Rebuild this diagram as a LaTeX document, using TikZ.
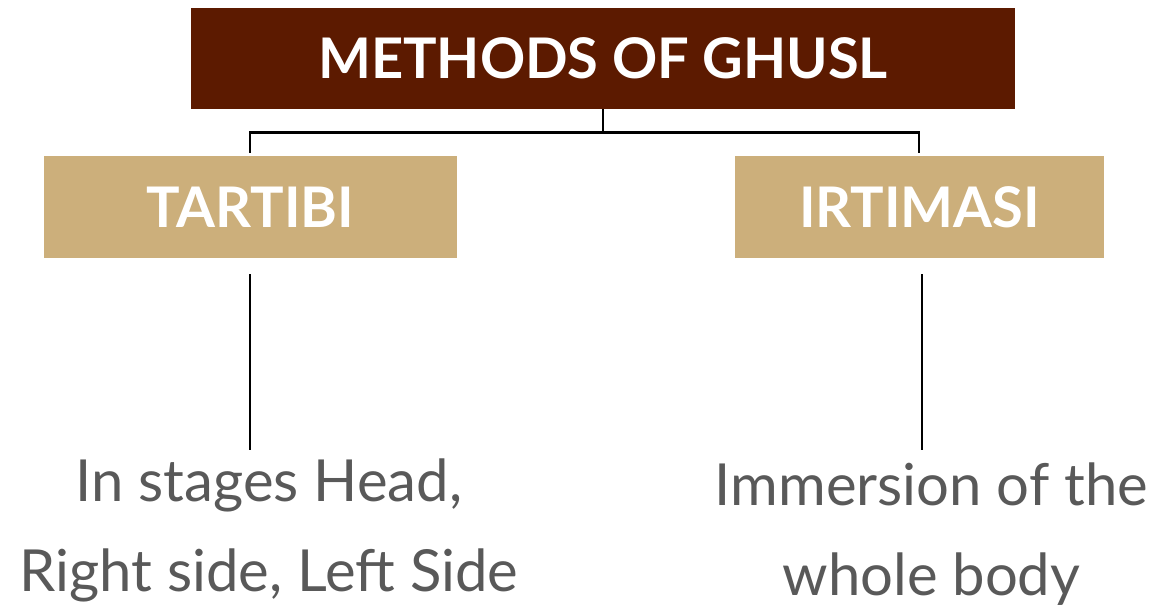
\documentclass[tikz,border=0pt]{standalone}
\usepackage{fontspec}
\setmainfont{Lato}
\usetikzlibrary{positioning,calc}
\definecolor{ghuslbrown}{RGB}{92,26,0}
\definecolor{ghusltan}{RGB}{204,175,123}
\definecolor{ghuslgrey}{RGB}{89,89,89}
\tikzset{x=0.75pt, y=-0.75pt, % one unit is one pixel of the sketch
        headbox/.style={ % the title bar
            fill=ghuslbrown,
            text=white,
            minimum width=618pt,
            minimum height=75.75pt,
            font=\fontsize{42}{50}\selectfont\bfseries},
        kindbox/.style={ % the two kinds of ghusl
            fill=ghusltan,
            text=white,
            minimum height=76.5pt,
            font=\fontsize{42}{50}\selectfont\bfseries},
        notetext/.style={ % the grey explanations, placed by their last line
            text=ghuslgrey,
            align=center,
            anchor=base,
            font=\fontsize{43.5}{67}\selectfont},
        link/.style={
            draw,
            line width=2pt}
        }
\begin{document}
\begin{tikzpicture}
    \useasboundingbox (0,0) rectangle (1151,606);

    \node[headbox]                           (methods)  at (603,58.5)  {METHODS OF GHUSL};
    \node[kindbox, minimum width=309.75pt]  (tartibi)  at (250.5,207) {TARTIBI};
    \node[kindbox, minimum width=276.75pt]  (irtimasi) at (919.5,207) {IRTIMASI};

    \node[notetext] (tartibinote)  at (269,591)   {In stages Head,\\Right side, Left Side};
    \node[notetext] (irtimasinote) at (931.5,595) {Immersion of the\\whole body};

    \draw[link] (methods.south) -- ++(0,23) coordinate (fork);
    \draw[link] ($(tartibi.north)+(-0.5,-3)$) |- (fork) -| ($(irtimasi.north)+(-0.5,-3)$);

    \draw[link] ($(tartibi.south)+(-0.5,16)$)  -- ++(0,176) coordinate (tartibiend);
    \draw[link] ($(irtimasi.south)+(2.5,16)$)  -- ++(0,176) coordinate (irtimasiend);
\end{tikzpicture}
\end{document}
